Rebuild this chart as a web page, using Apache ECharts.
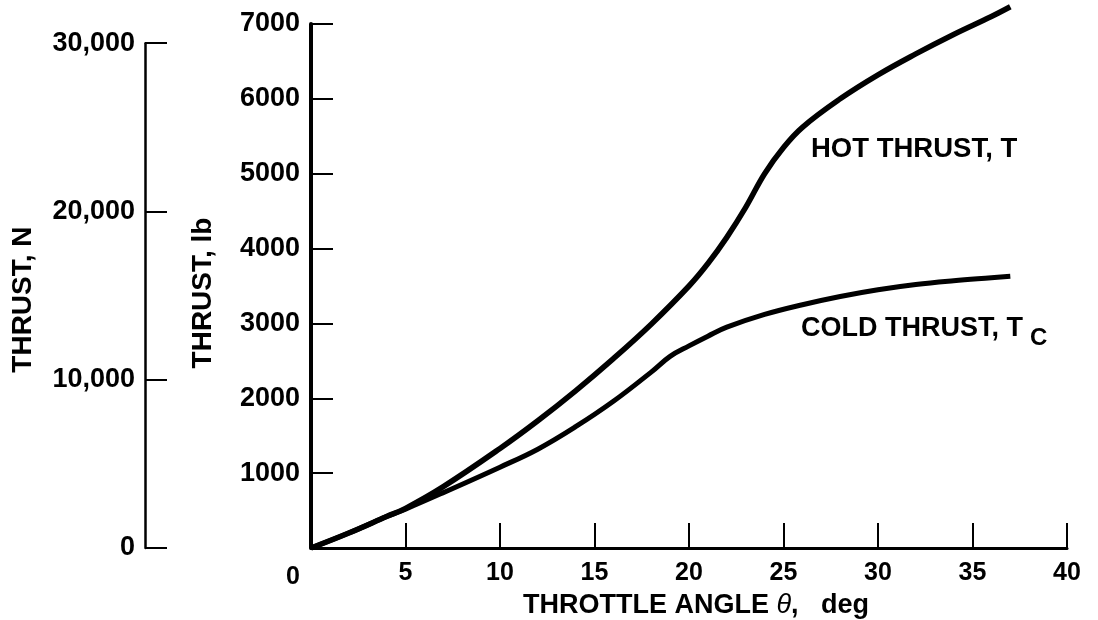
<!DOCTYPE html>
<html><head><meta charset="utf-8">
<script src="https://cdn.jsdelivr.net/npm/echarts@6/dist/echarts.min.js"></script>
<style>html,body{margin:0;padding:0;background:#fff}#c{width:1098px;height:620px}</style>
</head><body><div id="c"></div>
<script>
// Throttle angle (deg) and thrust (lb)
const hotAngle   = [0, 2, 4, 5, 7, 10, 12, 14, 16, 18, 20, 21, 22, 23, 24, 25, 26, 28, 30, 32, 34, 36, 37];
const hotThrust  = [0, 200, 420, 530, 820, 1330, 1700, 2100, 2530, 2990, 3500, 3800, 4150, 4550, 5000, 5350, 5620, 6000, 6320, 6600, 6860, 7100, 7230];
const coldAngle  = [0, 2, 4, 5, 7, 10, 12, 14, 16, 18, 19, 20, 21, 22, 24, 26, 28, 30, 32, 34, 36, 37];
const coldThrust = [0, 200, 420, 520, 740, 1080, 1320, 1620, 1960, 2350, 2560, 2700, 2830, 2950, 3120, 3250, 3360, 3450, 3520, 3570, 3610, 3630];
const xTicks = [0, 5, 10, 15, 20, 25, 30, 35, 40];
const lbTicks = [1000, 2000, 3000, 4000, 5000, 6000, 7000];
const nTicks = [0, 10000, 20000, 30000];
const LB_TO_N = 4.448222;

const FONT = '"Liberation Sans", Arial, Helvetica, sans-serif';
const chart = echarts.init(document.getElementById('c'), null, {renderer: 'canvas'});

const lbMax = lbTicks[lbTicks.length - 1];
const nMax = nTicks[nTicks.length - 1];
// grid for newton axis: its top sits where 30,000 N lies on the lb scale
const gTop = 24, gBottom = 72, gH = 620 - gTop - gBottom;
const nTop = gTop + gH * (1 - (nMax / LB_TO_N) / lbMax);

function pairs(xs, ys) { return xs.map((x, i) => [x, ys[i]]); }

chart.setOption({
  backgroundColor: '#fff',
  animation: false,
  grid: [
    {left: 311, right: 31, top: gTop, bottom: gBottom, containLabel: false, outerBoundsMode: 'none'},
    {left: 145, width: 40, top: nTop, bottom: gBottom, containLabel: false, outerBoundsMode: 'none'}
  ],
  xAxis: [{
    type: 'value', gridIndex: 0, min: xTicks[0], max: xTicks[xTicks.length - 1], interval: 5,
    axisLine: {show: true, lineStyle: {color: '#000', width: 3}},
    axisTick: {show: true, inside: true, length: 25, lineStyle: {color: '#000', width: 2}},
    splitLine: {show: false},
    axisLabel: {
      margin: 13, color: '#000', fontSize: 25, fontWeight: 'bold', fontFamily: FONT,
      formatter: v => v === 0 ? '{z|0}' : String(v),
      rich: {z: {fontSize: 25, fontWeight: 'bold', fontFamily: FONT, color: '#000', padding: [4, 36, 0, 0]}}
    },
    name: 'THROTTLE ANGLE {i|θ},   deg', nameLocation: 'middle', nameGap: 44, nameMoveOverlap: false,
    nameTextStyle: {
      color: '#000', fontSize: 27, fontWeight: 'bold', fontFamily: FONT, padding: [0, 0, 0, 14],
      rich: {i: {fontSize: 27, fontStyle: 'italic', fontWeight: 'normal', fontFamily: FONT, color: '#000'}}
    }
  }, {
    type: 'value', gridIndex: 1, min: 0, max: 1, show: false
  }],
  yAxis: [{
    type: 'value', gridIndex: 0, min: 0, max: lbMax, interval: 1000,
    axisLine: {show: true, lineStyle: {color: '#000', width: 4}},
    axisTick: {show: true, inside: true, length: 22, lineStyle: {color: '#000', width: 2}},
    splitLine: {show: false},
    axisLabel: {
      margin: 11, color: '#000', fontSize: 27, fontWeight: 'bold', fontFamily: FONT, padding: [12, 0, 0, 0],
      formatter: v => lbTicks.indexOf(v) >= 0 ? String(v) : ''
    },
    name: 'THRUST, lb', nameLocation: 'middle', nameRotate: 90, nameGap: 94, nameMoveOverlap: false,
    nameTextStyle: {color: '#000', fontSize: 28, fontWeight: 'bold', fontFamily: FONT, padding: [0, 14, 0, 0]}
  }, {
    type: 'value', gridIndex: 1, min: 0, max: nMax, interval: 10000,
    axisLine: {show: true, lineStyle: {color: '#000', width: 2.5}},
    axisTick: {show: true, inside: true, length: 22, lineStyle: {color: '#000', width: 2}},
    splitLine: {show: false},
    axisLabel: {
      margin: 10, color: '#000', fontSize: 27, fontWeight: 'bold', fontFamily: FONT, padding: [14, 0, 0, 0],
      formatter: v => nTicks.indexOf(v) >= 0 ? v.toLocaleString('en-US') : ''
    },
    name: 'THRUST, N', nameLocation: 'middle', nameRotate: 90, nameGap: 108, nameMoveOverlap: false,
    nameTextStyle: {color: '#000', fontSize: 28, fontWeight: 'bold', fontFamily: FONT, padding: [0, 8, 0, 0]}
  }],
  series: [{
    name: 'HOT THRUST, T', type: 'line', xAxisIndex: 0, yAxisIndex: 0,
    data: pairs(hotAngle, hotThrust), smooth: 0.4, showSymbol: false, clip: false,
    lineStyle: {color: '#000', width: 5.5}
  }, {
    name: 'COLD THRUST, Tc', type: 'line', xAxisIndex: 0, yAxisIndex: 0,
    data: pairs(coldAngle, coldThrust), smooth: 0.4, showSymbol: false, clip: false,
    lineStyle: {color: '#000', width: 5}
  }],
  graphic: [
    {type: 'text', x: 811, y: 149, style: {text: 'HOT THRUST, T', fill: '#000', font: 'bold 27.5px ' + FONT, align: 'left', verticalAlign: 'middle'}},
    {type: 'text', x: 801, y: 329, style: {text: 'COLD THRUST, T', fill: '#000', font: 'bold 27px ' + FONT, align: 'left', verticalAlign: 'middle'}},
    {type: 'text', x: 1030, y: 338, style: {text: 'C', fill: '#000', font: 'bold 24px ' + FONT, align: 'left', verticalAlign: 'middle'}}
  ]
});
</script></body></html>
